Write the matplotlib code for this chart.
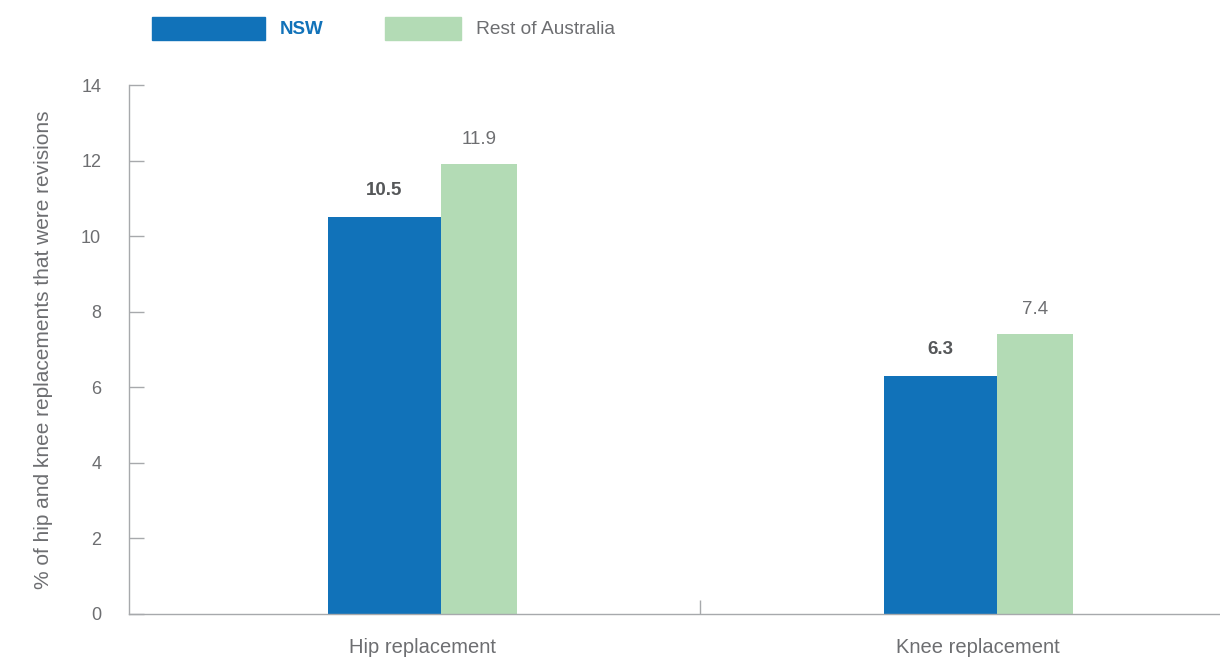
import matplotlib
matplotlib.use("Agg")
import matplotlib.pyplot as plt
from matplotlib.patches import Rectangle

categories = ["Hip replacement", "Knee replacement"]
nsw = [10.5, 6.3]
rest = [11.9, 7.4]
series_names = ["NSW", "Rest of Australia"]
yticks = [0, 2, 4, 6, 8, 10, 12, 14]

plt.rcParams['font.family'] = ['Liberation Sans', 'DejaVu Sans']
GRAY = "#6d6e71"
SPINE = "#a7a9ac"
BLUE = "#1172b9"
GREEN = "#b3dbb5"

fig = plt.figure(figsize=(12.2, 6.6), dpi=100)
ax = fig.add_axes([129/1220, 46/660, 1091/1220, 529/660])

x = list(range(len(categories)))
nsw_left = [xi - 0.169 for xi in x]
rest_left = [xi + 0.034 for xi in x]
ax.bar(nsw_left, nsw, width=0.203, align='edge', color=BLUE, zorder=2)
ax.bar(rest_left, rest, width=0.137, align='edge', color=GREEN, zorder=2)

for xl, v in zip(nsw_left, nsw):
    ax.annotate(f"{v}", (xl + 0.1015, v), xytext=(0, 13), textcoords='offset points',
                ha='center', va='bottom', fontsize=13.5, fontweight='bold', color="#555759")
for xl, v in zip(rest_left, rest):
    ax.annotate(f"{v}", (xl + 0.0685, v), xytext=(0, 12), textcoords='offset points',
                ha='center', va='bottom', fontsize=13.5, color=GRAY)

ax.set_xlim(-0.527, 1.435)
ax.set_ylim(0, 14)
ax.set_yticks(yticks)
ax.set_yticklabels([str(t) for t in yticks])
ax.set_xticks(x)
ax.set_xticklabels(categories)
ax.set_xticks([0.5], minor=True)
ax.tick_params(axis='x', which='major', length=0, pad=17, labelsize=14.5, labelcolor=GRAY)
ax.tick_params(axis='x', which='minor', direction='in', length=10, color=SPINE, width=1)
ax.tick_params(axis='y', direction='in', length=11, color=SPINE, width=1, pad=20,
               labelsize=13, labelcolor=GRAY)
for s in ['top', 'right']:
    ax.spines[s].set_visible(False)
for s in ['left', 'bottom']:
    ax.spines[s].set_color(SPINE)
    ax.spines[s].set_linewidth(1)

ax.set_ylabel("% of hip and knee replacements that were revisions", fontsize=15,
              color=GRAY, labelpad=20)

# legend drawn manually in figure pixel coordinates
def fx(px):
    return px / 1220
def fy(py):
    return 1 - py / 660

fig.patches.append(Rectangle((fx(152), fy(40)), fx(265) - fx(152), (40 - 17) / 660,
                             transform=fig.transFigure, color=BLUE))
fig.text(fx(280), fy(29), series_names[0], fontsize=13.5, fontweight='bold', color=BLUE,
         va='center', ha='left')
fig.patches.append(Rectangle((fx(385), fy(40)), fx(461) - fx(385), (40 - 17) / 660,
                             transform=fig.transFigure, color=GREEN))
fig.text(fx(476), fy(29), series_names[1], fontsize=13.8, color=GRAY, va='center', ha='left')

fig.savefig("out.png", dpi=100)
